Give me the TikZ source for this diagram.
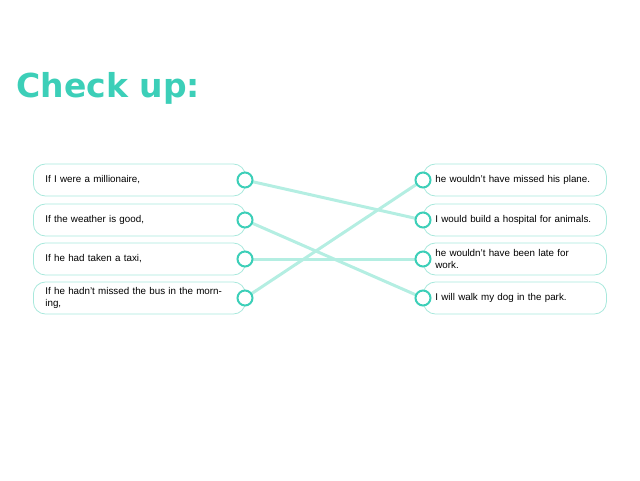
\documentclass[tikz,border=0pt]{standalone}
\usepackage{fontspec}
\setmainfont{Liberation Sans}
\newfontfamily\titlefont{DejaVu Sans}
\definecolor{teal1}{HTML}{3CCFB8}
\definecolor{edge}{HTML}{A8E8DC}
\definecolor{lnk}{HTML}{B4EEE2}
\begin{document}
\begin{tikzpicture}[x=1pt,y=-1pt,
  box/.style={draw=edge,line width=0.8pt,rounded corners=12pt,minimum height=32pt,anchor=west,inner xsep=12pt,align=left,font=\fontsize{9.8}{12}\selectfont},
  dot/.style={circle,draw=teal1,line width=2pt,fill=white,minimum size=15pt,inner sep=0pt},
  link/.style={draw=lnk,line width=3pt}]
\useasboundingbox (0,0) rectangle (640,480);
\node[anchor=west,text=teal1,font=\titlefont\bfseries\fontsize{33}{36}\selectfont] (t) at (13,88) {Check up:};
\foreach \i/\y/\txt in {1/180/{If I were a millionaire,},2/220/{If the weather is good,},3/259/{If he had taken a taxi,},4/298/{If he hadn't missed the bus in the morning,}}{
  \node[box,text width=188pt] (L\i) at (33,\y) {\txt};
  \coordinate (lc\i) at (245,\y);
}
\foreach \i/\y/\txt in {1/180/{he wouldn't have missed his plane.},2/220/{I would build a hospital for animals.},3/259/{he wouldn't have been late for work.},4/298/{I will walk my dog in the park.}}{
  \node[box,text width=159pt] (R\i) at (423,\y) {\txt};
  \coordinate (rc\i) at (423,\y);
}
\draw[link] (lc1) -- (rc2);
\draw[link] (lc2) -- (rc4);
\draw[link] (lc3) -- (rc3);
\draw[link] (lc4) -- (rc1);
\foreach \i in {1,...,4}{
  \node[dot] (a\i) at (lc\i) {};
  \node[dot] (b\i) at (rc\i) {};
}
\end{tikzpicture}
\end{document}
